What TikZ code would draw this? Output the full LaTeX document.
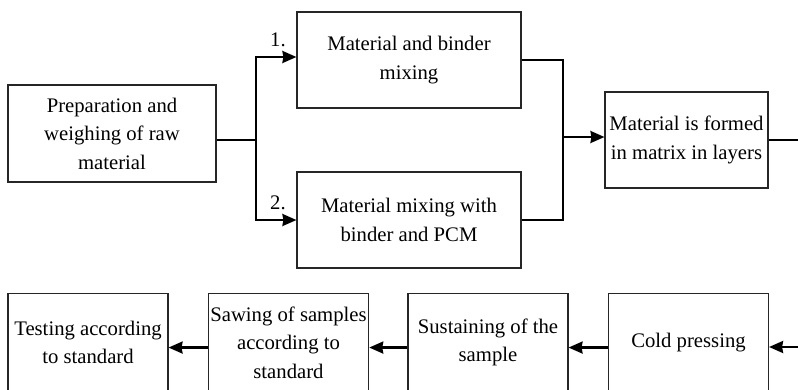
\documentclass[tikz,border=0pt]{standalone}
\usepackage{fontspec}
\setmainfont{Liberation Serif}
\usetikzlibrary{arrows.meta,calc}
\begin{document}
\begin{tikzpicture}[x=1pt,y=-1pt,
  box/.style={draw=black!85,line width=1.1pt,rectangle,align=center,inner sep=2pt,
    font=\fontsize{20.7}{28.5}\selectfont},
  conn/.style={line width=2.3pt,black},
  arr/.style={conn,-{Stealth[length=14pt,width=12pt,inset=1pt]}},
  lbl/.style={font=\fontsize{20.7}{24}\selectfont,inner sep=0pt}]
\clip (0,0) rectangle (798,389);
\fill[white] (0,0) rectangle (798,389);
% top row
\node[box,minimum width=208pt,minimum height=97pt] (prep) at (112,133.5)
  {Preparation and\\weighing of raw\\material};
\node[box,minimum width=224pt,minimum height=96pt] (mixa) at (409,60)
  {Material and binder\\mixing};
\node[box,minimum width=224pt,minimum height=96pt] (mixb) at (409,220)
  {Material mixing with\\binder and PCM};
\node[box,minimum width=163pt,minimum height=96pt] (matrix) at (686.5,140)
  {Material is formed\\in matrix in layers};
\node[lbl] (la) at (278,40) {1.};
\node[lbl] (lb) at (278,203) {2.};
\coordinate (sp) at (256,140);
\coordinate (mg) at (563,137);
\coordinate (outr) at (798,140);
\draw[conn] ([yshift=-6.5pt]prep.east) -- (sp);
\draw[arr] (sp) |- ([yshift=3pt]mixa.west);
\draw[arr] (sp) |- (mixb.west);
\draw[conn] (mixa.east) -| (mg |- mixb.east) -- (mixb.east);
\draw[arr] (mg) -- ([yshift=3pt]matrix.west);
\draw[conn] (matrix.east) -- (outr);
% bottom row
\node[box,anchor=north,minimum width=160pt,minimum height=98pt] (test) at (88,293)
  {Testing according\\to standard};
\node[box,anchor=north,minimum width=160pt,minimum height=98pt] (saw) at (288.5,293)
  {Sawing of samples\\according to\\standard};
\node[box,anchor=north,minimum width=160pt,minimum height=98pt] (sust) at (488,293)
  {Sustaining of the\\sample};
\node[box,anchor=north,minimum width=160pt,minimum height=98pt] (cold) at (688.5,293)
  {Cold pressing};
\coordinate (inr) at (798,347);
\draw[arr] (inr) -- (cold.east |- inr);
\draw[arr] ([yshift=-5pt]cold.west) -- ([yshift=-5pt]sust.east);
\draw[arr] ([yshift=-5pt]sust.west) -- ([yshift=-5pt]saw.east);
\draw[arr] ([yshift=-5pt]saw.west) -- ([yshift=-5pt]test.east);
\end{tikzpicture}
\end{document}
